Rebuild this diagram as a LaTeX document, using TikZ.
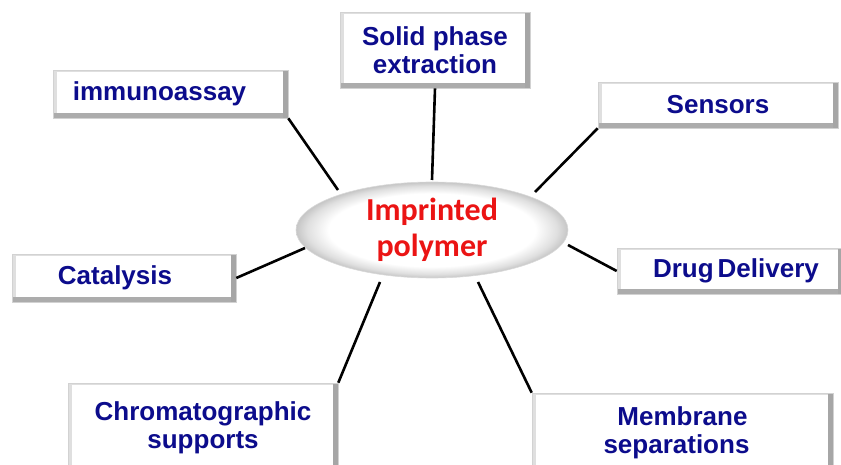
\documentclass[tikz,border=0pt]{standalone}
\usepackage{fontspec}
\setmainfont{Liberation Sans}
\newfontfamily\redfont{Carlito}
\usetikzlibrary{shapes.geometric}
\definecolor{navytext}{RGB}{12,12,140}
\definecolor{redtext}{RGB}{235,20,20}
\pgfdeclareradialshading{ellsh}{\pgfpoint{0bp}{0bp}}{color(0bp)=(white); color(19bp)=(white); color(23bp)=(gray!25); color(25bp)=(gray!45); color(50bp)=(gray!45)}
\tikzset{
  bevbox/.style={rectangle, inner sep=0pt, fill=gray!55, draw=gray!35, line width=0.6pt,
    font=\fontsize{26}{28}\selectfont\bfseries, text=navytext, align=center,
    path picture={
      \fill[gray!25] (path picture bounding box.north west) rectangle (path picture bounding box.south east);
      \fill[gray!65] ([shift={(0,-5)}]path picture bounding box.south west) rectangle (path picture bounding box.south east);
      \fill[gray!70] ([shift={(-5,0)}]path picture bounding box.north east) rectangle (path picture bounding box.south east);
      \fill[white] ([shift={(4,2)}]path picture bounding box.north west) rectangle ([shift={(-5,-5)}]path picture bounding box.south east);
    }},
  conn/.style={line width=2.6pt, black},
}
\begin{document}
\begin{tikzpicture}[x=1pt,y=-1pt]
\useasboundingbox (0,0) rectangle (841,465);
% boxes
\node[bevbox, minimum width=190, minimum height=76] (spe) at (435,50) {Solid phase\\extraction};
\node[bevbox, minimum width=235, minimum height=48] (imm) at (170.5,94) {immunoassay\hspace*{22pt}};
\node[bevbox, minimum width=240, minimum height=46] (sen) at (718,105) {Sensors};
\node[bevbox, minimum width=224, minimum height=48] (cat) at (124,278) {Catalysis\hspace*{18pt}};
\node[bevbox, minimum width=226, minimum height=46] (drug) at (730,271) {\hspace*{12pt}Drug\hspace{4pt}Delivery};
\node[bevbox, minimum width=270, minimum height=90] (chrom) at (203,428) {Chromatographic\\supports};
\node[bevbox, minimum width=301, minimum height=80] (mem) at (682.5,433) {Membrane\\separations\hspace*{12pt}};
% centre ellipse
\node[ellipse, minimum width=272, minimum height=96, inner sep=0pt,
  shading=ellsh, draw=gray!30, line width=0.6pt,
  font=\redfont\bfseries\fontsize{32}{36}\selectfont, text=redtext, align=center] (ip) at (432,230) {Imprinted\\polymer};
% connectors
\coordinate (a1) at (432,180);
\coordinate (a2) at (338,190);
\coordinate (a3) at (535,192);
\coordinate (a4) at (305,248);
\coordinate (a5) at (568,245);
\coordinate (a6) at (380,282);
\coordinate (a7) at (478,282);
\draw[conn] (spe.south) -- (a1);
\draw[conn] (imm.south east) -- (a2);
\draw[conn] (sen.south west) -- (a3);
\draw[conn] (cat.east) -- (a4);
\draw[conn] (drug.west) -- (a5);
\draw[conn] (chrom.north east) -- (a6);
\draw[conn] (mem.north west) -- (a7);
\end{tikzpicture}
\end{document}
